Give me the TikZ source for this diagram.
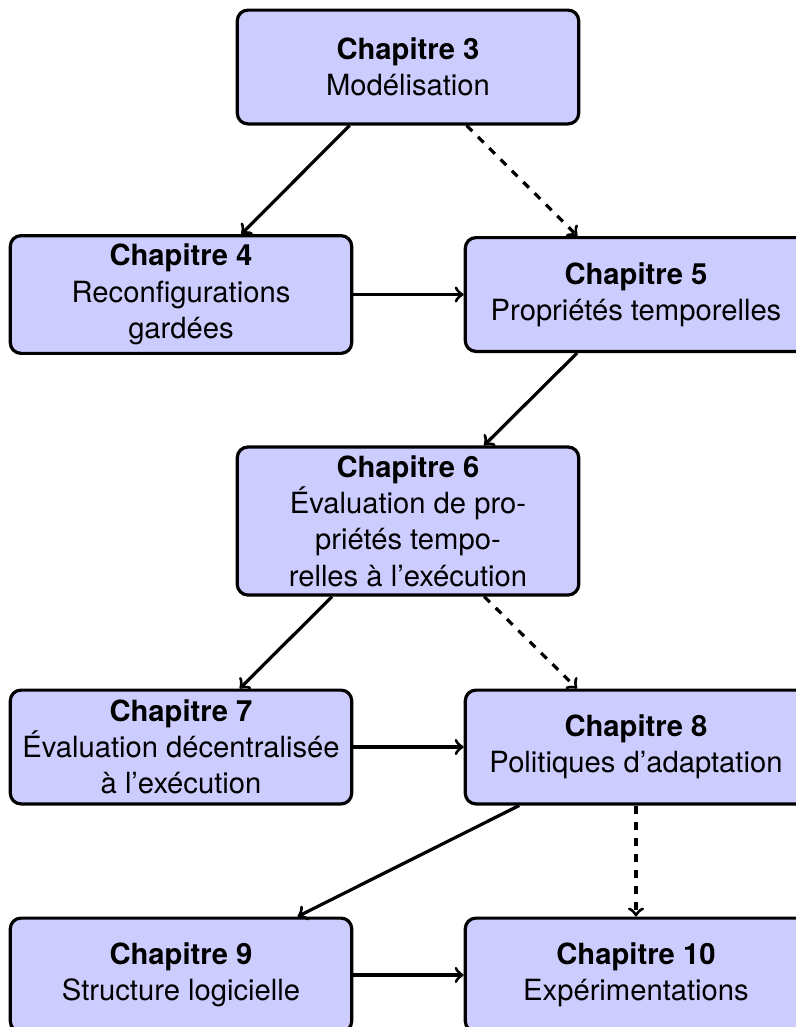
\documentclass[tikz,border=0pt]{standalone}
\usepackage{fontspec}
\setmainfont{TeX Gyre Heros}
\begin{document}
\begin{tikzpicture}[x=0.375pt,y=-0.375pt,
  chap/.style={draw=black, very thick, fill=blue!20, rounded corners=4pt,
    minimum width=4.5cm, minimum height=1.5cm, inner xsep=1pt, inner ysep=3.2pt,
    align=center, font=\fontsize{10.95}{13.6}\selectfont},
  link/.style={->, very thick},
  opt/.style={->, very thick, dashed}]
  \useasboundingbox (0,0) rectangle (796,1027);

  \node[chap] (c3)  at (408,67)    {\textbf{Chapitre 3}\\Modélisation};
  \node[chap] (c4)  at (181,294.5) {\textbf{Chapitre 4}\\Reconfigurations\\gardées};
  \node[chap] (c5)  at (636,294.5) {\textbf{Chapitre 5}\\Propriétés temporelles};
  \node[chap] (c6)  at (408,521)   {\textbf{Chapitre 6}\\Évaluation de pro-\\priétés tempo-\\relles à l'exécution};
  \node[chap] (c7)  at (181,747)   {\textbf{Chapitre 7}\\Évaluation décentralisée\\à l'exécution};
  \node[chap] (c8)  at (636,747)   {\textbf{Chapitre 8}\\Politiques d'adaptation};
  \node[chap] (c9)  at (181,975)   {\textbf{Chapitre 9}\\Structure logicielle};
  \node[chap] (c10) at (636,975)   {\textbf{Chapitre 10}\\Expérimentations};

  \draw[link] (c3) -- (c4);
  \draw[opt]  (c3) -- (c5);
  \draw[link] (c4) -- (c5);
  \draw[link] (c5) -- (c6);
  \draw[link] (c6) -- (c7);
  \draw[opt]  (c6) -- (c8);
  \draw[link] (c7) -- (c8);
  \draw[link] (c8) -- (c9);
  \draw[opt]  (c8) -- (c10);
  \draw[link] (c9) -- (c10);
\end{tikzpicture}
\end{document}
